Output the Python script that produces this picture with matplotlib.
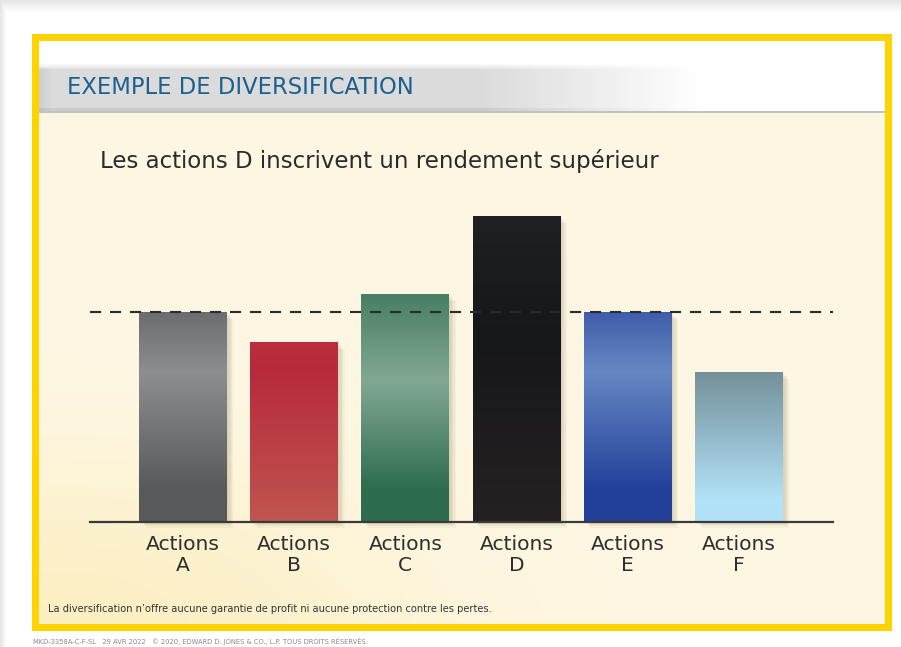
import numpy as np
import matplotlib
matplotlib.use('Agg')
import matplotlib.pyplot as plt
from matplotlib.patches import Rectangle
from matplotlib.colors import to_rgb

# ---------------- data ----------------
categories = ['A', 'B', 'C', 'D', 'E', 'F']
values = [7.0, 6.0, 7.6, 10.2, 7.0, 5.0]
average = 7.0
tick_labels = [f'Actions\n{c}' for c in categories]

title = 'EXEMPLE DE DIVERSIFICATION'
subtitle = 'Les actions D inscrivent un rendement supérieur'
footnote = "La diversification n\u2019offre aucune garantie de profit ni aucune protection contre les pertes."
footer = 'MKD-3358A-C-F-SL   29 AVR 2022   \u00a9 2020, EDWARD D. JONES & CO., L.P. TOUS DROITS R\u00c9SERV\u00c9S.'

# ---------------- styles ----------------
bar_gradients = [
    [(0.0, '#6C6D6F'), (0.29, '#8D8E90'), (0.85, '#58595B'), (1.0, '#58595B')],
    [(0.0, '#BB2E3E'), (0.15, '#B72A3B'), (1.0, '#C05550')],
    [(0.0, '#477F62'), (0.38, '#82A894'), (0.86, '#2D6C4D'), (1.0, '#2D6C4D')],
    [(0.0, '#1F2023'), (0.40, '#16171A'), (1.0, '#252122')],
    [(0.0, '#3F5DA9'), (0.28, '#6687C4'), (0.85, '#22409A'), (1.0, '#22409A')],
    [(0.0, '#74909B'), (0.85, '#B2E2F7'), (1.0, '#B2E3F8')],
]
FONT = 'DejaVu Sans'
plt.rcParams['font.family'] = [FONT]

W, H = 901, 647
fig = plt.figure(figsize=(W / 100, H / 100), dpi=100)

# ---------------- background (pixel coordinates) ----------------
img = np.ones((H, W, 3))
yy, xx = np.mgrid[0:H, 0:W].astype(float)
top_sh = np.clip(yy / 12.0, 0, 1)
left_sh = np.clip(xx / 6.0, 0, 1)
shade = 0.90 + 0.10 * np.minimum(top_sh, left_sh)
img *= shade[..., None]
yel = np.array(to_rgb('#FFD300'))
img[34:631, 32:892] = yel
img[41:624, 39:885] = 1.0
band_top, band_bot = 63, 112
fx = np.clip((700 - np.arange(W)) / 220.0, 0, 1)
for r in range(band_top, band_bot):
    t = (r - band_top) / (band_bot - band_top)
    v = 0.86
    if t < 0.12:
        v = 1 - (1 - 0.88) * (t / 0.12)
    elif t > 0.9:
        v = 0.80
    row = 1 - (1 - v) * fx
    img[r, 39:885] = row[39:885, None]
for c in range(39, 52):
    k = (52 - c) / 13.0
    img[band_top + 5:band_bot, c] *= (1 - 0.06 * k)
img[band_bot - 1:band_bot + 1, 39:885] = 0.76
cream = np.array([254, 247, 228]) / 255.0
img[band_bot + 1:624, 39:885] = cream
wm = np.array([250, 232, 165]) / 255.0
tint = 0.55 * np.exp(-((xx - 60) / 330.0) ** 2 - ((640 - yy) / 170.0) ** 2)
region = np.zeros((H, W), bool)
region[band_bot + 1:624, 39:885] = True
tint = np.where(region, tint, 0)
img = img * (1 - tint[..., None]) + wm * tint[..., None]

bg = fig.add_axes([0, 0, 1, 1])
bg.imshow(img, extent=(0, W, H, 0), interpolation='bilinear')
bg.set_xlim(0, W)
bg.set_ylim(H, 0)
bg.axis('off')

bg.text(67, 88, title, color='#1A6090', fontsize=16.3, va='center', ha='left')
bg.text(100, 161, subtitle, color='#2B2B2B', fontsize=16.5, va='center', ha='left')
bg.text(48, 609, footnote, color='#333333', fontsize=7.1, va='center', ha='left')
bg.text(33, 641, footer, color='#8A8A8A', fontsize=4.9, va='center', ha='left')

# ---------------- chart axes ----------------
px_per_x = 111.2
px_per_y = 30.0
x_left_px, x_right_px, base_px, top_px = 90, 833, 522, 200
first_center_px = 183
ax = fig.add_axes([x_left_px / W, (H - base_px) / H,
                   (x_right_px - x_left_px) / W, (base_px - top_px) / H])
ax.patch.set_alpha(0)
xlim = (-(first_center_px - x_left_px) / px_per_x, (x_right_px - first_center_px) / px_per_x)
ylim = (0, (base_px - top_px) / px_per_y)

x = np.arange(len(categories))
bar_w = 0.79
bars = ax.bar(x, values, width=bar_w, color='none', edgecolor='none', zorder=3)


def grad_image(stops, n=256):
    pos = np.array([s[0] for s in stops])
    cols = np.array([to_rgb(s[1]) for s in stops])
    t = np.linspace(0, 1, n)
    out = np.stack([np.interp(t, pos, cols[:, i]) for i in range(3)], axis=-1)
    return out[:, None, :]


for patch, stops in zip(bars, bar_gradients):
    x0, w, h = patch.get_x(), patch.get_width(), patch.get_height()
    for k in range(1, 6):
        dx = k * 1.3 / px_per_x
        dy = k * 1.1 / px_per_y
        sh = Rectangle((x0 + dx, -dy), w, h - dy * 0.3, facecolor='#6B5E3A',
                       edgecolor='none', alpha=0.05, zorder=1, clip_on=False)
        ax.add_patch(sh)
    im = ax.imshow(grad_image(stops), extent=(x0, x0 + w, 0, h), aspect='auto',
                   origin='upper', zorder=3, interpolation='bilinear')
    im.set_clip_path(patch)

ax.set_xlim(*xlim)
ax.set_ylim(*ylim)

ax.axhline(average, color='#2A2A2A', lw=1.5, dashes=(5.3, 4.3), zorder=5)
ax.axhline(0, color='#3A3A3A', lw=1.6, zorder=5, clip_on=False)

ax.set_xticks(x, tick_labels)
ax.tick_params(axis='x', length=0, pad=9, labelsize=14.6, labelcolor='#2E2E2E')
for lbl in ax.get_xticklabels():
    lbl.set_linespacing(1.17)
ax.set_yticks([])
for s in ax.spines.values():
    s.set_visible(False)

fig.savefig('out.png', dpi=100)
